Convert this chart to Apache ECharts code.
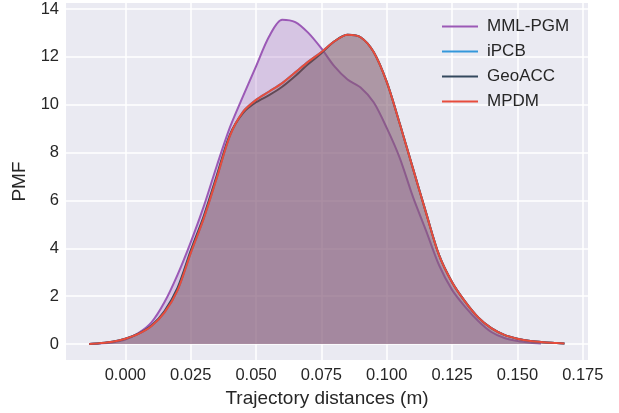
<!DOCTYPE html>
<html>
<head>
<meta charset="utf-8">
<script src="https://cdn.jsdelivr.net/npm/echarts@6/dist/echarts.min.js"></script>
<style>
  html, body { margin: 0; padding: 0; background: #fff; }
  #chart { width: 619px; height: 413px; }
</style>
</head>
<body>
<div id="chart"></div>
<script>
// KDE curves (x in m, y = density)
const mmlX = [-0.0138, -0.010, -0.005, 0.000, 0.005, 0.010, 0.015, 0.020, 0.025, 0.030, 0.035, 0.040, 0.045, 0.050, 0.055, 0.060, 0.065, 0.070, 0.075, 0.080, 0.085, 0.090, 0.095, 0.100, 0.105, 0.110, 0.115, 0.120, 0.125, 0.130, 0.135, 0.140, 0.145, 0.150, 0.155, 0.159];
const mmlY = [0, 0.02, 0.06, 0.18, 0.45, 0.9, 1.75, 2.9, 4.25, 5.75, 7.45, 9.05, 10.35, 11.6, 12.85, 13.55, 13.45, 13.0, 12.35, 11.6, 11.05, 10.72, 10.1, 9.03, 7.77, 6.16, 4.75, 3.3, 2.26, 1.55, 0.96, 0.5, 0.25, 0.12, 0.05, 0.02];

const baseX = [-0.0138, -0.010, -0.005, 0.000, 0.005, 0.010, 0.015, 0.020, 0.025, 0.030, 0.035, 0.040, 0.045, 0.050, 0.055, 0.060, 0.065, 0.070, 0.075, 0.080, 0.085, 0.090, 0.095, 0.100, 0.105, 0.110, 0.115, 0.120, 0.125, 0.130, 0.135, 0.140, 0.145, 0.150, 0.155, 0.160, 0.165, 0.168];
const mpdmY = [0, 0.03, 0.09, 0.22, 0.42, 0.75, 1.32, 2.25, 3.8, 5.25, 6.95, 8.7, 9.7, 10.2, 10.55, 10.9, 11.35, 11.8, 12.2, 12.65, 12.92, 12.82, 12.2, 10.95, 9.2, 7.35, 5.5, 3.72, 2.58, 1.77, 1.11, 0.66, 0.38, 0.22, 0.12, 0.07, 0.04, 0.02];
const ipcbY = [0, 0.03, 0.09, 0.22, 0.42, 0.75, 1.32, 2.25, 3.8, 5.25, 6.95, 8.7, 9.7, 10.2, 10.55, 10.9, 11.35, 11.8, 12.2, 12.65, 12.92, 12.82, 12.2, 10.95, 9.2, 7.35, 5.5, 3.72, 2.58, 1.77, 1.11, 0.66, 0.38, 0.22, 0.12, 0.07, 0.04, 0.02];
const geoY = [0, 0.03, 0.09, 0.22, 0.43, 0.77, 1.38, 2.35, 3.9, 5.35, 7.05, 8.75, 9.65, 10.1, 10.4, 10.75, 11.2, 11.7, 12.15, 12.65, 12.92, 12.82, 12.2, 10.95, 9.2, 7.35, 5.5, 3.72, 2.58, 1.77, 1.11, 0.66, 0.38, 0.22, 0.12, 0.07, 0.04, 0.02];

const xTicks = [0, 0.025, 0.05, 0.075, 0.1, 0.125, 0.15, 0.175];
const yTicks = [0, 2, 4, 6, 8, 10, 12, 14];

const names = ['MML-PGM', 'iPCB', 'GeoACC', 'MPDM'];
const colors = ['#9b59b6', '#3498db', '#34495e', '#e74c3c'];

const zip = (xs, ys) => xs.map((x, i) => [x, ys[i]]);
const seriesData = [zip(mmlX, mmlY), zip(baseX, ipcbY), zip(baseX, geoY), zip(baseX, mpdmY)];

const font = 'Liberation Sans, Arial, sans-serif';

const chart = echarts.init(document.getElementById('chart'));
const option = {
  animation: false,
  backgroundColor: '#ffffff',
  grid: {
    left: 66, right: 31, top: 3, bottom: 53,
    outerBoundsMode: 'none',
    show: true,
    backgroundColor: '#EAEAF2',
    borderWidth: 0
  },
  legend: {
    top: 13, left: 437,
    orient: 'vertical',
    icon: 'rect',
    itemWidth: 36, itemHeight: 2,
    itemGap: 8,
    data: names,
    textStyle: { fontFamily: font, fontSize: 17, color: '#262626', padding: [0, 0, 0, 4] }
  },
  xAxis: {
    type: 'value',
    min: -0.0227, max: 0.177,
    name: 'Trajectory distances (m)',
    nameLocation: 'middle',
    nameGap: 25,
    nameTextStyle: { fontFamily: font, fontSize: 19, color: '#262626' },
    axisLine: { show: false },
    axisTick: { show: false, customValues: xTicks },
    axisLabel: {
      customValues: xTicks,
      formatter: v => v.toFixed(3),
      fontFamily: font, fontSize: 16.5, color: '#262626', margin: 7
    },
    splitLine: { show: true, lineStyle: { color: '#ffffff', width: 1.5 } }
  },
  yAxis: {
    type: 'value',
    min: -0.67, max: 14.25,
    name: 'PMF',
    nameLocation: 'middle',
    nameGap: 34,
    nameTextStyle: { fontFamily: font, fontSize: 19, color: '#262626' },
    axisLine: { show: false },
    axisTick: { show: false, customValues: yTicks },
    axisLabel: {
      customValues: yTicks,
      fontFamily: font, fontSize: 16.5, color: '#262626', margin: 7
    },
    splitLine: { show: true, lineStyle: { color: '#ffffff', width: 1.5 } }
  },
  series: names.map((n, i) => ({
    name: n,
    type: 'line',
    data: seriesData[i],
    smooth: 0.3,
    symbol: 'none',
    color: colors[i],
    lineStyle: { color: colors[i], width: 2 },
    areaStyle: { color: colors[i], opacity: 0.25 },
    z: 2 + i
  }))
};
chart.setOption(option);
</script>
</body>
</html>
